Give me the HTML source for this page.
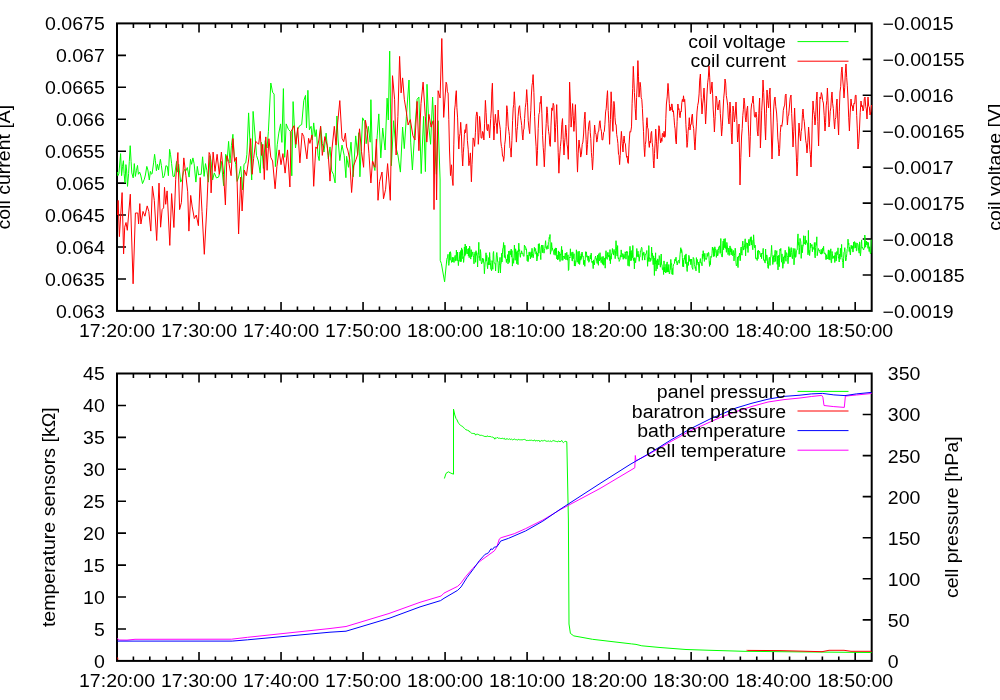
<!DOCTYPE html>
<html><head><meta charset="utf-8"><style>
html,body{margin:0;padding:0;background:#fff;width:1000px;height:700px;overflow:hidden}
svg{display:block;will-change:transform}
text{font-family:"Liberation Sans",sans-serif;font-size:18px;fill:#000}
</style></head><body>
<svg width="1000" height="700" viewBox="0 0 1000 700">
<rect width="1000" height="700" fill="#fff"/>
<rect x="117.0" y="23.4" width="754.70" height="287.50" fill="none" stroke="#000" stroke-width="2"/>
<path d="M133.40 310.9v-4.5M133.40 23.4v4.5M149.81 310.9v-4.5M149.81 23.4v4.5M166.21 310.9v-4.5M166.21 23.4v4.5M182.62 310.9v-4.5M182.62 23.4v4.5M199.02 310.9v-9M199.02 23.4v9M215.42 310.9v-4.5M215.42 23.4v4.5M231.83 310.9v-4.5M231.83 23.4v4.5M248.23 310.9v-4.5M248.23 23.4v4.5M264.64 310.9v-4.5M264.64 23.4v4.5M281.04 310.9v-9M281.04 23.4v9M297.44 310.9v-4.5M297.44 23.4v4.5M313.85 310.9v-4.5M313.85 23.4v4.5M330.25 310.9v-4.5M330.25 23.4v4.5M346.66 310.9v-4.5M346.66 23.4v4.5M363.06 310.9v-9M363.06 23.4v9M379.46 310.9v-4.5M379.46 23.4v4.5M395.87 310.9v-4.5M395.87 23.4v4.5M412.27 310.9v-4.5M412.27 23.4v4.5M428.68 310.9v-4.5M428.68 23.4v4.5M445.08 310.9v-9M445.08 23.4v9M461.48 310.9v-4.5M461.48 23.4v4.5M477.89 310.9v-4.5M477.89 23.4v4.5M494.29 310.9v-4.5M494.29 23.4v4.5M510.70 310.9v-4.5M510.70 23.4v4.5M527.10 310.9v-9M527.10 23.4v9M543.50 310.9v-4.5M543.50 23.4v4.5M559.91 310.9v-4.5M559.91 23.4v4.5M576.31 310.9v-4.5M576.31 23.4v4.5M592.72 310.9v-4.5M592.72 23.4v4.5M609.12 310.9v-9M609.12 23.4v9M625.52 310.9v-4.5M625.52 23.4v4.5M641.93 310.9v-4.5M641.93 23.4v4.5M658.33 310.9v-4.5M658.33 23.4v4.5M674.74 310.9v-4.5M674.74 23.4v4.5M691.14 310.9v-9M691.14 23.4v9M707.54 310.9v-4.5M707.54 23.4v4.5M723.95 310.9v-4.5M723.95 23.4v4.5M740.35 310.9v-4.5M740.35 23.4v4.5M756.76 310.9v-4.5M756.76 23.4v4.5M773.16 310.9v-9M773.16 23.4v9M789.56 310.9v-4.5M789.56 23.4v4.5M805.97 310.9v-4.5M805.97 23.4v4.5M822.37 310.9v-4.5M822.37 23.4v4.5M838.78 310.9v-4.5M838.78 23.4v4.5M855.18 310.9v-9M855.18 23.4v9" stroke="#000" stroke-width="1.6" fill="none"/>
<path d="M117.0 55.34h9M117.0 87.29h9M117.0 119.23h9M117.0 151.18h9M117.0 183.12h9M117.0 215.07h9M117.0 247.01h9M117.0 278.96h9M871.7 59.34h-9M871.7 95.28h-9M871.7 131.21h-9M871.7 167.15h-9M871.7 203.09h-9M871.7 239.03h-9M871.7 274.96h-9" stroke="#000" stroke-width="1.6" fill="none"/>
<rect x="117.0" y="373.5" width="754.70" height="287.40" fill="none" stroke="#000" stroke-width="2"/>
<path d="M133.40 660.9v-4.5M133.40 373.5v4.5M149.81 660.9v-4.5M149.81 373.5v4.5M166.21 660.9v-4.5M166.21 373.5v4.5M182.62 660.9v-4.5M182.62 373.5v4.5M199.02 660.9v-9M199.02 373.5v9M215.42 660.9v-4.5M215.42 373.5v4.5M231.83 660.9v-4.5M231.83 373.5v4.5M248.23 660.9v-4.5M248.23 373.5v4.5M264.64 660.9v-4.5M264.64 373.5v4.5M281.04 660.9v-9M281.04 373.5v9M297.44 660.9v-4.5M297.44 373.5v4.5M313.85 660.9v-4.5M313.85 373.5v4.5M330.25 660.9v-4.5M330.25 373.5v4.5M346.66 660.9v-4.5M346.66 373.5v4.5M363.06 660.9v-9M363.06 373.5v9M379.46 660.9v-4.5M379.46 373.5v4.5M395.87 660.9v-4.5M395.87 373.5v4.5M412.27 660.9v-4.5M412.27 373.5v4.5M428.68 660.9v-4.5M428.68 373.5v4.5M445.08 660.9v-9M445.08 373.5v9M461.48 660.9v-4.5M461.48 373.5v4.5M477.89 660.9v-4.5M477.89 373.5v4.5M494.29 660.9v-4.5M494.29 373.5v4.5M510.70 660.9v-4.5M510.70 373.5v4.5M527.10 660.9v-9M527.10 373.5v9M543.50 660.9v-4.5M543.50 373.5v4.5M559.91 660.9v-4.5M559.91 373.5v4.5M576.31 660.9v-4.5M576.31 373.5v4.5M592.72 660.9v-4.5M592.72 373.5v4.5M609.12 660.9v-9M609.12 373.5v9M625.52 660.9v-4.5M625.52 373.5v4.5M641.93 660.9v-4.5M641.93 373.5v4.5M658.33 660.9v-4.5M658.33 373.5v4.5M674.74 660.9v-4.5M674.74 373.5v4.5M691.14 660.9v-9M691.14 373.5v9M707.54 660.9v-4.5M707.54 373.5v4.5M723.95 660.9v-4.5M723.95 373.5v4.5M740.35 660.9v-4.5M740.35 373.5v4.5M756.76 660.9v-4.5M756.76 373.5v4.5M773.16 660.9v-9M773.16 373.5v9M789.56 660.9v-4.5M789.56 373.5v4.5M805.97 660.9v-4.5M805.97 373.5v4.5M822.37 660.9v-4.5M822.37 373.5v4.5M838.78 660.9v-4.5M838.78 373.5v4.5M855.18 660.9v-9M855.18 373.5v9" stroke="#000" stroke-width="1.6" fill="none"/>
<path d="M117.0 405.43h9M117.0 437.37h9M117.0 469.30h9M117.0 501.23h9M117.0 533.17h9M117.0 565.10h9M117.0 597.03h9M117.0 628.97h9M871.7 414.56h-9M871.7 455.61h-9M871.7 496.67h-9M871.7 537.73h-9M871.7 578.79h-9M871.7 619.84h-9" stroke="#000" stroke-width="1.6" fill="none"/>
<text x="104.80" y="30.20" text-anchor="end" textLength="59.73" lengthAdjust="spacingAndGlyphs">0.0675</text>
<text x="104.80" y="62.19" text-anchor="end" textLength="48.87" lengthAdjust="spacingAndGlyphs">0.067</text>
<text x="104.80" y="94.18" text-anchor="end" textLength="59.73" lengthAdjust="spacingAndGlyphs">0.0665</text>
<text x="104.80" y="126.17" text-anchor="end" textLength="48.87" lengthAdjust="spacingAndGlyphs">0.066</text>
<text x="104.80" y="158.16" text-anchor="end" textLength="59.73" lengthAdjust="spacingAndGlyphs">0.0655</text>
<text x="104.80" y="190.14" text-anchor="end" textLength="48.87" lengthAdjust="spacingAndGlyphs">0.065</text>
<text x="104.80" y="222.13" text-anchor="end" textLength="59.73" lengthAdjust="spacingAndGlyphs">0.0645</text>
<text x="104.80" y="254.12" text-anchor="end" textLength="48.87" lengthAdjust="spacingAndGlyphs">0.064</text>
<text x="104.80" y="286.11" text-anchor="end" textLength="59.73" lengthAdjust="spacingAndGlyphs">0.0635</text>
<text x="104.80" y="318.10" text-anchor="end" textLength="48.87" lengthAdjust="spacingAndGlyphs">0.063</text>
<text x="882.50" y="30.20" text-anchor="start" textLength="71.14" lengthAdjust="spacingAndGlyphs">−0.0015</text>
<text x="882.50" y="66.19" text-anchor="start" textLength="82.00" lengthAdjust="spacingAndGlyphs">−0.00155</text>
<text x="882.50" y="102.17" text-anchor="start" textLength="71.14" lengthAdjust="spacingAndGlyphs">−0.0016</text>
<text x="882.50" y="138.16" text-anchor="start" textLength="82.00" lengthAdjust="spacingAndGlyphs">−0.00165</text>
<text x="882.50" y="174.15" text-anchor="start" textLength="71.14" lengthAdjust="spacingAndGlyphs">−0.0017</text>
<text x="882.50" y="210.14" text-anchor="start" textLength="82.00" lengthAdjust="spacingAndGlyphs">−0.00175</text>
<text x="882.50" y="246.13" text-anchor="start" textLength="71.14" lengthAdjust="spacingAndGlyphs">−0.0018</text>
<text x="882.50" y="282.11" text-anchor="start" textLength="82.00" lengthAdjust="spacingAndGlyphs">−0.00185</text>
<text x="882.50" y="318.10" text-anchor="start" textLength="71.14" lengthAdjust="spacingAndGlyphs">−0.0019</text>
<text x="104.80" y="380.30" text-anchor="end" textLength="21.72" lengthAdjust="spacingAndGlyphs">45</text>
<text x="104.80" y="412.28" text-anchor="end" textLength="21.72" lengthAdjust="spacingAndGlyphs">40</text>
<text x="104.80" y="444.26" text-anchor="end" textLength="21.72" lengthAdjust="spacingAndGlyphs">35</text>
<text x="104.80" y="476.23" text-anchor="end" textLength="21.72" lengthAdjust="spacingAndGlyphs">30</text>
<text x="104.80" y="508.21" text-anchor="end" textLength="21.72" lengthAdjust="spacingAndGlyphs">25</text>
<text x="104.80" y="540.19" text-anchor="end" textLength="21.72" lengthAdjust="spacingAndGlyphs">20</text>
<text x="104.80" y="572.17" text-anchor="end" textLength="21.72" lengthAdjust="spacingAndGlyphs">15</text>
<text x="104.80" y="604.14" text-anchor="end" textLength="21.72" lengthAdjust="spacingAndGlyphs">10</text>
<text x="104.80" y="636.12" text-anchor="end" textLength="10.86" lengthAdjust="spacingAndGlyphs">5</text>
<text x="104.80" y="668.10" text-anchor="end" textLength="10.86" lengthAdjust="spacingAndGlyphs">0</text>
<text x="887.80" y="380.30" text-anchor="start" textLength="32.58" lengthAdjust="spacingAndGlyphs">350</text>
<text x="887.80" y="421.41" text-anchor="start" textLength="32.58" lengthAdjust="spacingAndGlyphs">300</text>
<text x="887.80" y="462.53" text-anchor="start" textLength="32.58" lengthAdjust="spacingAndGlyphs">250</text>
<text x="887.80" y="503.64" text-anchor="start" textLength="32.58" lengthAdjust="spacingAndGlyphs">200</text>
<text x="887.80" y="544.76" text-anchor="start" textLength="32.58" lengthAdjust="spacingAndGlyphs">150</text>
<text x="887.80" y="585.87" text-anchor="start" textLength="32.58" lengthAdjust="spacingAndGlyphs">100</text>
<text x="887.80" y="626.99" text-anchor="start" textLength="21.72" lengthAdjust="spacingAndGlyphs">50</text>
<text x="887.80" y="668.10" text-anchor="start" textLength="10.86" lengthAdjust="spacingAndGlyphs">0</text>
<text x="117.00" y="336.50" text-anchor="middle" textLength="76.02" lengthAdjust="spacingAndGlyphs">17:20:00</text>
<text x="117.00" y="686.80" text-anchor="middle" textLength="76.02" lengthAdjust="spacingAndGlyphs">17:20:00</text>
<text x="199.02" y="336.50" text-anchor="middle" textLength="76.02" lengthAdjust="spacingAndGlyphs">17:30:00</text>
<text x="199.02" y="686.80" text-anchor="middle" textLength="76.02" lengthAdjust="spacingAndGlyphs">17:30:00</text>
<text x="281.04" y="336.50" text-anchor="middle" textLength="76.02" lengthAdjust="spacingAndGlyphs">17:40:00</text>
<text x="281.04" y="686.80" text-anchor="middle" textLength="76.02" lengthAdjust="spacingAndGlyphs">17:40:00</text>
<text x="363.06" y="336.50" text-anchor="middle" textLength="76.02" lengthAdjust="spacingAndGlyphs">17:50:00</text>
<text x="363.06" y="686.80" text-anchor="middle" textLength="76.02" lengthAdjust="spacingAndGlyphs">17:50:00</text>
<text x="445.08" y="336.50" text-anchor="middle" textLength="76.02" lengthAdjust="spacingAndGlyphs">18:00:00</text>
<text x="445.08" y="686.80" text-anchor="middle" textLength="76.02" lengthAdjust="spacingAndGlyphs">18:00:00</text>
<text x="527.10" y="336.50" text-anchor="middle" textLength="76.02" lengthAdjust="spacingAndGlyphs">18:10:00</text>
<text x="527.10" y="686.80" text-anchor="middle" textLength="76.02" lengthAdjust="spacingAndGlyphs">18:10:00</text>
<text x="609.12" y="336.50" text-anchor="middle" textLength="76.02" lengthAdjust="spacingAndGlyphs">18:20:00</text>
<text x="609.12" y="686.80" text-anchor="middle" textLength="76.02" lengthAdjust="spacingAndGlyphs">18:20:00</text>
<text x="691.14" y="336.50" text-anchor="middle" textLength="76.02" lengthAdjust="spacingAndGlyphs">18:30:00</text>
<text x="691.14" y="686.80" text-anchor="middle" textLength="76.02" lengthAdjust="spacingAndGlyphs">18:30:00</text>
<text x="773.16" y="336.50" text-anchor="middle" textLength="76.02" lengthAdjust="spacingAndGlyphs">18:40:00</text>
<text x="773.16" y="686.80" text-anchor="middle" textLength="76.02" lengthAdjust="spacingAndGlyphs">18:40:00</text>
<text x="855.18" y="336.50" text-anchor="middle" textLength="76.02" lengthAdjust="spacingAndGlyphs">18:50:00</text>
<text x="855.18" y="686.80" text-anchor="middle" textLength="76.02" lengthAdjust="spacingAndGlyphs">18:50:00</text>
<text transform="translate(9.60,167.15) rotate(-90)" x="0" y="0" text-anchor="middle" textLength="124.82" lengthAdjust="spacingAndGlyphs">coil current [A]</text>
<text transform="translate(1001.30,167.15) rotate(-90)" x="0" y="0" text-anchor="middle" textLength="127.01" lengthAdjust="spacingAndGlyphs">coil voltage [V]</text>
<text transform="translate(55.00,517.20) rotate(-90)" x="0" y="0" text-anchor="middle" textLength="219.75" lengthAdjust="spacingAndGlyphs">temperature sensors [kΩ]</text>
<text transform="translate(958.00,517.20) rotate(-90)" x="0" y="0" text-anchor="middle" textLength="161.74" lengthAdjust="spacingAndGlyphs">cell pressure [hPa]</text>
<polyline points="117.5,172.0 117.9,175.7 118.9,173.6 120.6,153.6 121.6,175.7 122.5,166.4 123.4,160.7 124.1,173.6 125.0,182.9 125.9,164.6 126.6,170.0 127.5,186.4 128.6,173.6 129.3,161.4 130.2,145.7 131.1,161.4 131.8,172.9 133.2,177.9 134.3,163.6 135.4,176.4 136.4,170.7 137.5,165.4 138.4,174.3 139.6,172.1 140.7,175.0 142.5,183.6 144.3,179.3 145.4,175.0 146.8,166.4 147.9,170.0 149.3,180.0 150.4,171.4 151.4,174.3 152.1,173.6 153.6,162.9 154.6,154.3 155.4,160.7 156.4,170.7 157.5,164.3 158.6,170.0 160.4,159.3 161.4,165.7 163.0,177.9 164.4,175.7 165.9,165.7 167.3,166.4 168.4,175.7 169.6,149.3 170.5,154.3 171.6,163.6 173.0,176.4 174.4,176.4 176.6,161.4 177.6,172.1 178.7,164.3 180.7,182.1 181.9,180.0 183.4,172.1 184.8,169.3 185.9,170.7 187.3,167.5 189.1,177.1 190.5,159.3 191.6,164.3 192.9,157.9 194.1,163.6 195.9,182.1 197.3,166.4 198.6,175.0 199.8,174.3 201.2,174.3 202.6,156.8 204.1,176.4 205.5,163.6 206.9,170.7 208.4,182.1 210.0,155.7 211.1,161.4 212.6,180.0 214.3,172.9 216.4,177.9 218.6,177.1 220.0,171.4 221.4,161.4 223.6,185.7 225.7,154.3 227.1,161.4 228.6,141.4 230.0,162.9 231.4,145.7 232.9,134.3 234.3,157.1 235.7,164.3 237.1,181.4 238.6,177.1 240.7,166.4 242.6,190.0 244.0,164.3 245.7,162.9 246.9,154.3 248.6,112.9 250.0,142.9 251.7,180.0 253.1,111.4 255.0,135.0 256.5,155.4 258.3,161.0 260.2,173.1 261.5,142.4 263.4,168.4 265.2,140.6 267.1,148.0 268.4,131.3 270.8,83.0 272.6,92.3 274.1,94.1 275.4,166.6 277.3,144.3 278.8,133.1 280.6,123.9 281.9,142.4 283.4,88.6 284.7,157.3 286.2,123.9 288.4,129.4 290.3,131.3 291.8,175.8 293.1,101.6 295.5,148.0 297.7,129.4 299.6,125.7 301.7,124.6 303.8,100.6 305.5,95.4 306.5,128.0 307.9,90.3 309.4,129.7 311.1,126.3 312.3,140.0 313.7,122.9 315.1,136.6 316.3,129.7 318.0,155.4 319.2,160.6 320.6,126.3 322.3,143.4 324.0,152.0 326.1,133.1 328.3,158.9 330.0,146.9 331.7,170.9 333.4,174.3 335.1,182.9 336.9,116.0 338.1,140.0 339.8,160.6 342.0,145.1 344.2,155.4 345.9,177.7 346.6,156.3 348.5,167.3 351.0,142.2 353.2,176.8 355.7,135.9 357.6,154.7 358.8,132.7 359.9,176.8 362.6,117.8 364.7,121.7 366.2,143.7 368.3,126.4 370.2,142.2 370.9,99.7 372.5,161.0 374.9,170.5 377.2,135.9 378.8,113.9 380.8,157.9 382.7,128.0 385.1,150.0 387.1,98.1 388.3,120.0 389.7,51.1 391.4,165.7 393.6,120.7 395.7,146.4 397.9,155.0 400.4,172.1 402.6,127.1 404.3,148.6 406.4,116.4 409.0,80.0 410.7,142.1 412.4,170.0 415.0,127.1 417.1,99.3 418.9,97.1 421.2,173.6 423.6,116.4 425.4,171.6 427.0,84.3 428.9,127.1 430.6,144.3 432.6,97.1 434.3,137.9 436.4,174.3 438.1,120.7 440.1,180.0 440.2,260.3 441.4,263.6 442.5,270.0 444.6,281.8 446.8,259.3 447.2,257.8 447.6,257.7 448.0,254.3 448.4,263.4 448.8,265.4 449.2,262.9 449.6,252.3 450.0,260.2 450.4,251.7 450.8,253.4 451.2,259.7 451.6,262.4 452.0,262.1 452.4,257.3 452.8,262.0 453.2,257.5 453.6,257.7 454.0,262.5 454.4,258.5 454.8,257.1 455.2,255.4 455.6,260.9 456.0,260.5 456.4,250.1 456.8,256.5 457.2,260.8 457.6,252.1 458.0,260.1 458.4,265.6 458.8,260.3 459.2,261.2 459.6,256.0 460.0,252.0 460.4,261.7 460.8,250.5 461.2,261.6 461.6,247.9 462.0,255.2 462.4,249.6 462.8,258.7 463.2,256.6 463.6,262.4 464.0,258.4 464.4,247.0 464.8,256.2 465.2,244.1 465.6,254.6 466.0,252.2 466.4,246.0 466.8,253.3 467.2,254.0 467.6,253.0 468.0,248.9 468.4,255.9 468.8,248.3 469.2,257.6 469.6,246.1 470.0,249.0 470.4,257.5 470.8,259.1 471.2,249.7 471.6,256.8 472.0,254.9 472.4,253.7 472.8,251.9 473.2,255.3 473.6,257.2 474.0,263.8 474.4,253.8 474.8,253.5 475.2,252.0 475.6,262.3 476.0,250.7 476.4,255.3 476.8,252.7 477.2,255.7 477.6,267.0 478.0,255.6 478.4,254.5 478.8,242.3 479.2,257.5 479.6,256.3 480.0,260.7 480.4,249.6 480.8,253.6 481.2,261.7 481.6,263.9 482.0,262.7 482.4,260.1 482.8,258.0 483.2,262.3 483.6,259.3 484.0,264.2 484.4,273.7 484.8,267.4 485.2,262.1 485.6,261.3 486.0,252.8 486.4,261.1 486.8,255.4 487.2,265.2 487.6,268.7 488.0,262.6 488.4,264.9 488.8,257.5 489.2,264.9 489.6,252.5 490.0,258.6 490.4,262.7 490.8,269.1 491.2,269.1 491.6,270.7 492.0,260.6 492.4,262.4 492.8,269.3 493.2,253.2 493.6,251.5 494.0,261.7 494.4,262.8 494.8,263.7 495.2,263.4 495.6,271.0 496.0,262.5 496.4,254.8 496.8,252.5 497.2,255.7 497.6,261.6 498.0,261.3 498.4,273.0 498.8,269.9 499.2,265.8 499.6,263.2 500.0,257.4 500.4,273.0 500.8,264.1 501.2,263.0 501.6,253.3 502.0,262.0 502.4,254.3 502.8,248.3 503.2,248.1 503.6,242.5 504.0,249.3 504.4,257.5 504.8,245.2 505.2,254.2 505.6,258.7 506.0,259.2 506.4,262.5 506.8,259.0 507.2,260.2 507.6,254.6 508.0,263.9 508.4,259.1 508.8,251.0 509.2,262.5 509.6,258.9 510.0,250.8 510.4,254.6 510.8,254.0 511.2,249.1 511.6,257.1 512.0,250.6 512.4,266.1 512.8,260.1 513.2,258.5 513.6,263.3 514.0,256.0 514.4,245.1 514.8,253.3 515.2,260.3 515.6,248.8 516.0,254.1 516.4,252.1 516.8,263.8 517.2,250.7 517.6,261.4 518.0,264.7 518.4,252.4 518.8,243.2 519.2,251.0 519.6,249.7 520.0,255.2 520.4,257.3 520.8,253.2 521.2,253.9 521.6,250.8 522.0,252.5 522.4,253.4 522.8,253.0 523.2,255.5 523.6,256.2 524.0,256.4 524.4,245.1 524.8,246.9 525.2,246.6 525.6,246.7 526.0,249.9 526.4,248.8 526.8,254.6 527.2,260.8 527.6,255.0 528.0,261.7 528.4,260.2 528.8,254.2 529.2,251.9 529.6,255.6 530.0,252.6 530.4,258.9 530.8,254.8 531.2,251.7 531.6,257.3 532.0,248.3 532.4,253.4 532.8,256.7 533.2,257.8 533.6,254.9 534.0,252.0 534.4,247.3 534.8,251.2 535.2,250.0 535.6,248.5 536.0,254.2 536.4,251.7 536.8,261.0 537.2,259.7 537.6,253.2 538.0,256.2 538.4,244.0 538.8,253.1 539.2,243.5 539.6,246.8 540.0,250.9 540.4,254.6 540.8,259.6 541.2,247.0 541.6,245.0 542.0,249.1 542.4,252.7 542.8,245.1 543.2,248.1 543.6,249.3 544.0,253.2 544.4,250.2 544.8,248.8 545.2,244.5 545.6,240.7 546.0,247.6 546.4,246.7 546.8,249.4 547.2,247.2 547.6,245.6 548.0,248.9 548.4,242.2 548.8,241.6 549.2,237.4 549.6,238.8 550.0,234.5 550.4,254.2 550.8,251.4 551.2,251.3 551.6,242.6 552.0,247.5 552.4,247.8 552.8,250.5 553.2,250.3 553.6,250.7 554.0,254.6 554.4,251.4 554.8,248.8 555.2,255.3 555.6,247.9 556.0,253.2 556.4,248.1 556.8,258.9 557.2,255.1 557.6,260.0 558.0,257.8 558.4,250.9 558.8,259.3 559.2,251.9 559.6,253.3 560.0,261.5 560.4,254.0 560.8,254.8 561.2,252.2 561.6,246.4 562.0,260.3 562.4,249.9 562.8,260.3 563.2,257.0 563.6,256.0 564.0,256.5 564.4,256.3 564.8,258.9 565.2,253.0 565.6,253.6 566.0,259.9 566.4,255.5 566.8,252.3 567.2,257.5 567.6,260.2 568.0,254.8 568.4,270.5 568.8,269.5 569.2,258.7 569.6,257.0 570.0,258.0 570.4,248.8 570.8,255.7 571.2,252.4 571.6,253.4 572.0,260.5 572.4,261.1 572.8,251.9 573.2,258.7 573.6,257.7 574.0,253.7 574.4,265.9 574.8,260.7 575.2,266.1 575.6,264.4 576.0,259.5 576.4,249.8 576.8,260.3 577.2,262.2 577.6,261.2 578.0,251.5 578.4,263.6 578.8,254.5 579.2,251.2 579.6,264.5 580.0,260.8 580.4,256.2 580.8,260.2 581.2,253.7 581.6,258.5 582.0,252.0 582.4,254.1 582.8,256.7 583.2,256.2 583.6,264.6 584.0,264.0 584.4,260.2 584.8,266.3 585.2,260.1 585.6,251.7 586.0,253.6 586.4,251.9 586.8,257.2 587.2,255.7 587.6,256.7 588.0,260.6 588.4,256.0 588.8,262.3 589.2,261.3 589.6,261.0 590.0,256.2 590.4,255.2 590.8,259.0 591.2,253.1 591.6,260.6 592.0,262.6 592.4,261.1 592.8,264.2 593.2,268.6 593.6,259.9 594.0,263.5 594.4,264.9 594.8,260.8 595.2,257.4 595.6,256.0 596.0,258.9 596.4,258.6 596.8,261.8 597.2,263.5 597.6,255.1 598.0,260.9 598.4,265.3 598.8,253.7 599.2,260.0 599.6,260.9 600.0,252.7 600.4,258.0 600.8,260.7 601.2,262.7 601.6,259.6 602.0,256.7 602.4,264.3 602.8,258.9 603.2,256.4 603.6,265.2 604.0,265.0 604.4,259.8 604.8,257.9 605.2,268.2 605.6,256.2 606.0,250.7 606.4,256.9 606.8,258.1 607.2,259.4 607.6,252.6 608.0,252.2 608.4,254.4 608.8,257.1 609.2,255.1 609.6,260.5 610.0,249.6 610.4,263.7 610.8,256.2 611.2,259.2 611.6,253.8 612.0,254.2 612.4,248.5 612.8,252.1 613.2,251.8 613.6,255.1 614.0,249.4 614.4,252.0 614.8,252.8 615.2,258.7 615.6,250.8 616.0,240.7 616.4,246.8 616.8,254.4 617.2,256.1 617.6,245.6 618.0,257.6 618.4,258.9 618.8,257.6 619.2,261.4 619.6,260.4 620.0,259.5 620.4,255.4 620.8,257.1 621.2,249.9 621.6,254.7 622.0,257.1 622.4,255.5 622.8,253.5 623.2,259.3 623.6,255.2 624.0,254.4 624.4,257.2 624.8,258.3 625.2,251.8 625.6,253.6 626.0,259.2 626.4,253.5 626.8,251.1 627.2,252.4 627.6,252.0 628.0,265.7 628.4,256.3 628.8,255.6 629.2,266.3 629.6,250.6 630.0,246.3 630.4,250.8 630.8,260.8 631.2,250.5 631.6,260.3 632.0,253.1 632.4,257.7 632.8,245.5 633.2,257.7 633.6,260.7 634.0,258.0 634.4,268.9 634.8,257.6 635.2,260.7 635.6,262.7 636.0,258.9 636.4,257.4 636.8,248.5 637.2,255.4 637.6,256.6 638.0,251.2 638.4,257.1 638.8,254.4 639.2,261.3 639.6,257.0 640.0,257.1 640.4,250.9 640.8,251.4 641.2,248.8 641.6,247.3 642.0,248.4 642.4,260.2 642.8,252.9 643.2,255.3 643.6,252.2 644.0,252.1 644.4,257.9 644.8,260.1 645.2,255.0 645.6,253.9 646.0,254.2 646.4,253.6 646.8,250.5 647.2,257.0 647.6,266.3 648.0,257.7 648.4,261.4 648.8,245.6 649.2,256.4 649.6,259.3 650.0,261.7 650.4,258.3 650.8,260.6 651.2,259.3 651.6,247.1 652.0,256.0 652.4,253.1 652.8,259.8 653.2,264.7 653.6,255.8 654.0,262.5 654.4,275.5 654.8,258.1 655.2,264.1 655.6,252.8 656.0,271.1 656.4,260.6 656.8,262.7 657.2,268.8 657.6,259.0 658.0,259.3 658.4,262.4 658.8,265.1 659.2,255.6 659.6,256.3 660.0,262.8 660.4,267.2 660.8,261.8 661.2,254.0 661.6,264.7 662.0,264.5 662.4,269.6 662.8,269.9 663.2,267.5 663.6,274.5 664.0,260.9 664.4,271.9 664.8,267.2 665.2,271.6 665.6,272.9 666.0,264.3 666.4,272.3 666.8,263.2 667.2,261.9 667.6,272.1 668.0,267.5 668.4,272.0 668.8,264.5 669.2,273.4 669.6,273.9 670.0,270.5 670.4,269.0 670.8,259.4 671.2,264.9 671.6,263.5 672.0,274.2 672.4,268.5 672.8,274.7 673.2,266.6 673.6,264.3 674.0,264.1 674.4,263.7 674.8,259.2 675.2,258.9 675.6,260.8 676.0,257.2 676.4,262.4 676.8,261.5 677.2,265.0 677.6,262.9 678.0,261.3 678.4,260.4 678.8,260.3 679.2,263.3 679.6,261.3 680.0,254.8 680.4,251.2 680.8,247.7 681.2,252.6 681.6,249.5 682.0,251.9 682.4,257.6 682.8,266.6 683.2,260.2 683.6,266.8 684.0,258.4 684.4,259.3 684.8,255.9 685.2,255.0 685.6,263.5 686.0,253.9 686.4,261.9 686.8,268.6 687.2,271.5 687.6,265.0 688.0,261.9 688.4,265.4 688.8,255.3 689.2,256.3 689.6,261.3 690.0,261.2 690.4,259.1 690.8,264.7 691.2,261.1 691.6,259.1 692.0,267.3 692.4,268.0 692.8,269.4 693.2,257.4 693.6,258.0 694.0,259.4 694.4,264.7 694.8,266.1 695.2,268.5 695.6,266.8 696.0,270.9 696.4,257.6 696.8,265.1 697.2,259.4 697.6,262.4 698.0,263.2 698.4,262.2 698.8,269.0 699.2,272.8 699.6,263.5 700.0,260.7 700.4,258.6 700.8,263.1 701.2,263.0 701.6,262.7 702.0,265.8 702.4,254.1 702.8,258.6 703.2,250.7 703.6,256.3 704.0,254.6 704.4,261.4 704.8,253.3 705.2,257.7 705.6,258.0 706.0,259.8 706.4,259.3 706.8,257.9 707.2,253.3 707.6,256.3 708.0,255.5 708.4,252.3 708.8,252.7 709.2,262.0 709.6,266.4 710.0,261.3 710.4,264.7 710.8,256.4 711.2,257.0 711.6,257.4 712.0,253.8 712.4,247.0 712.8,250.1 713.2,249.1 713.6,256.6 714.0,247.7 714.4,256.2 714.8,246.8 715.2,248.5 715.6,250.2 716.0,253.4 716.4,257.4 716.8,250.6 717.2,249.5 717.6,255.9 718.0,254.9 718.4,250.5 718.8,247.1 719.2,247.3 719.6,245.8 720.0,253.3 720.4,252.8 720.8,238.5 721.2,253.7 721.6,255.8 722.0,257.1 722.4,256.8 722.8,243.9 723.2,241.0 723.6,249.7 724.0,238.9 724.4,247.7 724.8,241.4 725.2,238.5 725.6,248.4 726.0,246.5 726.4,252.3 726.8,242.4 727.2,244.6 727.6,249.0 728.0,254.6 728.4,252.5 728.8,248.0 729.2,255.5 729.6,254.4 730.0,245.9 730.4,252.0 730.8,247.8 731.2,254.9 731.6,249.1 732.0,249.5 732.4,254.4 732.8,255.8 733.2,251.5 733.6,250.5 734.0,260.9 734.4,255.3 734.8,253.0 735.2,248.2 735.6,250.9 736.0,262.9 736.4,266.0 736.8,265.5 737.2,264.1 737.6,257.1 738.0,267.6 738.4,256.1 738.8,257.2 739.2,256.0 739.6,253.0 740.0,260.8 740.4,260.5 740.8,248.6 741.2,247.0 741.6,253.6 742.0,255.2 742.4,245.2 742.8,241.1 743.2,245.5 743.6,250.1 744.0,249.0 744.4,247.5 744.8,243.7 745.2,238.8 745.6,255.9 746.0,244.5 746.4,242.8 746.8,243.2 747.2,248.4 747.6,243.1 748.0,252.5 748.4,243.7 748.8,239.4 749.2,239.3 749.6,245.8 750.0,244.9 750.4,237.5 750.8,241.3 751.2,236.7 751.6,245.0 752.0,240.3 752.4,247.1 752.8,249.8 753.2,244.9 753.6,234.8 754.0,241.2 754.4,246.1 754.8,247.9 755.2,245.2 755.6,258.2 756.0,259.1 756.4,258.6 756.8,257.8 757.2,260.5 757.6,250.8 758.0,258.8 758.4,250.2 758.8,251.1 759.2,252.2 759.6,251.4 760.0,254.2 760.4,255.4 760.8,256.9 761.2,253.2 761.6,258.7 762.0,253.0 762.4,253.6 762.8,253.3 763.2,248.4 763.6,260.3 764.0,259.9 764.4,259.9 764.8,262.3 765.2,263.1 765.6,249.0 766.0,260.6 766.4,256.1 766.8,254.9 767.2,257.1 767.6,264.6 768.0,268.2 768.4,268.4 768.8,260.8 769.2,257.6 769.6,257.2 770.0,265.4 770.4,257.3 770.8,257.3 771.2,252.3 771.6,245.4 772.0,254.3 772.4,256.7 772.8,264.5 773.2,260.3 773.6,255.6 774.0,262.2 774.4,257.3 774.8,253.6 775.2,250.2 775.6,261.4 776.0,254.4 776.4,253.8 776.8,250.7 777.2,264.3 777.6,256.1 778.0,269.9 778.4,258.6 778.8,255.2 779.2,266.7 779.6,257.2 780.0,249.0 780.4,250.9 780.8,248.4 781.2,257.5 781.6,262.2 782.0,253.9 782.4,261.6 782.8,268.3 783.2,264.9 783.6,256.9 784.0,263.6 784.4,255.8 784.8,257.0 785.2,250.2 785.6,258.7 786.0,261.3 786.4,252.7 786.8,252.8 787.2,255.5 787.6,257.5 788.0,263.7 788.4,258.0 788.8,246.7 789.2,257.1 789.6,248.7 790.0,253.9 790.4,256.9 790.8,250.2 791.2,247.6 791.6,252.3 792.0,257.1 792.4,258.7 792.8,254.1 793.2,248.4 793.6,249.4 794.0,264.8 794.4,257.7 794.8,248.5 795.2,250.4 795.6,257.4 796.0,256.3 796.4,250.6 796.8,249.8 797.2,249.8 797.6,239.0 798.0,233.9 798.4,245.2 798.8,242.3 799.2,254.2 799.6,247.7 800.0,238.4 800.4,241.2 800.8,241.3 801.2,258.4 801.6,248.0 802.0,244.8 802.4,252.7 802.8,246.8 803.2,246.2 803.6,235.7 804.0,244.1 804.4,243.9 804.8,241.6 805.2,235.9 805.6,244.7 806.0,243.3 806.4,240.4 806.8,243.0 807.2,243.3 807.6,243.2 808.0,254.8 808.4,230.4 808.8,252.7 809.2,250.3 809.6,255.6 810.0,251.7 810.4,243.0 810.8,247.7 811.2,244.6 811.6,245.9 812.0,244.6 812.4,251.7 812.8,246.9 813.2,248.4 813.6,248.9 814.0,249.5 814.4,242.5 814.8,255.3 815.2,257.9 815.6,247.3 816.0,242.4 816.4,245.3 816.8,236.8 817.2,255.7 817.6,253.0 818.0,250.7 818.4,248.5 818.8,249.7 819.2,251.0 819.6,250.2 820.0,253.1 820.4,253.1 820.8,254.1 821.2,249.3 821.6,254.2 822.0,251.4 822.4,253.4 822.8,247.9 823.2,250.7 823.6,246.3 824.0,253.5 824.4,253.7 824.8,252.8 825.2,253.1 825.6,255.3 826.0,259.7 826.4,254.7 826.8,259.0 827.2,258.1 827.6,258.9 828.0,253.7 828.4,249.9 828.8,259.4 829.2,250.5 829.6,259.4 830.0,260.1 830.4,253.1 830.8,248.8 831.2,262.8 831.6,262.7 832.0,251.4 832.4,253.6 832.8,258.6 833.2,257.4 833.6,256.3 834.0,258.2 834.4,255.6 834.8,262.5 835.2,252.5 835.6,254.6 836.0,261.1 836.4,259.9 836.8,251.5 837.2,254.7 837.6,253.9 838.0,247.8 838.4,258.2 838.8,256.9 839.2,262.0 839.6,254.2 840.0,259.3 840.4,248.3 840.8,255.5 841.2,256.8 841.6,244.4 842.0,257.4 842.4,260.3 842.8,262.5 843.2,268.0 843.6,258.2 844.0,252.2 844.4,251.6 844.8,247.7 845.2,254.2 845.6,261.0 846.0,260.5 846.4,257.4 846.8,253.7 847.2,249.2 847.6,248.5 848.0,239.2 848.4,244.6 848.8,243.2 849.2,251.5 849.6,247.2 850.0,252.9 850.4,255.0 850.8,249.0 851.2,245.2 851.6,248.6 852.0,246.0 852.4,245.9 852.8,252.0 853.2,251.9 853.6,242.0 854.0,248.3 854.4,241.6 854.8,241.8 855.2,244.7 855.6,247.8 856.0,242.8 856.4,250.9 856.8,250.7 857.2,243.2 857.6,243.5 858.0,244.3 858.4,247.9 858.8,251.5 859.2,253.2 859.6,241.9 860.0,249.2 860.4,255.9 860.8,252.3 861.2,244.6 861.6,239.9 862.0,248.2 862.4,247.2 862.8,247.8 863.2,249.2 863.6,250.0 864.0,248.3 864.4,248.1 864.8,235.0 865.2,239.6 865.6,247.2 866.0,243.3 866.4,241.0 866.8,245.0 867.2,241.9 867.6,242.8 868.0,248.4 868.4,242.5 868.8,247.9 869.2,251.6 869.6,246.8 870.0,251.3 870.4,253.8 870.8,252.5 871.2,239.6" fill="none" stroke="#00ff00" stroke-width="1.0" stroke-linejoin="round"/>
<polyline points="117.5,215.0 118.1,200.4 119.4,236.6 122.1,192.6 123.6,253.9 124.7,227.2 126.0,222.5 127.3,230.3 130.3,194.2 133.1,283.8 135.4,213.0 137.8,213.0 138.6,224.0 139.8,203.6 140.9,224.0 143.0,211.4 144.9,216.2 147.2,205.9 148.8,211.4 150.8,231.1 152.4,186.3 154.3,200.4 156.7,240.5 159.0,183.1 160.6,227.2 162.1,209.6 163.6,207.9 164.5,187.3 165.7,204.3 167.1,190.9 169.8,245.4 171.6,193.6 173.9,227.5 175.7,179.3 177.9,152.5 179.6,209.6 181.4,202.5 183.8,157.9 185.9,175.7 187.7,191.8 188.9,231.1 190.7,195.4 192.1,206.1 194.3,218.6 196.3,215.0 198.4,225.7 200.2,177.5 202.0,211.4 204.3,254.3 206.8,207.9 209.1,152.5 210.0,154.3 211.1,192.9 213.1,152.1 215.0,171.4 217.1,154.3 219.3,174.3 221.4,152.1 223.6,174.3 225.4,205.0 226.9,155.7 228.6,161.4 231.1,175.7 232.9,138.6 234.6,161.4 236.4,157.1 238.6,234.0 240.7,177.1 242.1,211.0 244.3,170.0 246.4,175.7 248.6,160.0 250.7,138.6 252.1,174.3 253.6,158.6 255.7,141.4 256.9,142.4 258.7,144.3 260.2,131.3 261.5,155.4 262.8,144.3 264.3,179.6 265.8,136.9 267.1,170.3 268.9,138.7 270.8,157.3 272.6,161.0 275.1,188.8 276.9,166.6 279.1,149.9 281.0,164.7 282.9,153.6 285.1,173.1 287.5,149.9 289.9,187.0 291.2,131.3 294.0,125.7 295.9,144.3 297.7,127.6 299.9,162.9 302.1,133.1 303.8,136.6 306.9,158.9 308.6,138.3 309.9,143.4 312.0,134.9 313.7,186.3 315.8,146.9 317.1,148.6 318.9,140.0 320.6,126.3 322.3,155.4 324.9,136.6 327.1,145.1 328.3,155.4 330.0,181.1 331.7,152.0 334.3,126.3 336.0,145.1 337.7,122.9 339.8,100.6 342.0,138.3 343.7,141.7 345.4,133.1 346.6,146.9 347.8,150.0 349.7,159.5 351.6,192.5 353.6,165.8 356.0,159.5 357.6,154.7 359.5,128.8 361.5,151.6 363.6,167.3 365.4,120.2 367.0,129.6 368.9,153.2 370.9,183.0 372.5,161.0 374.9,167.3 376.4,139.0 378.0,200.3 379.6,181.5 382.0,172.0 383.5,198.8 385.6,189.3 387.6,163.6 389.3,185.0 390.3,200.3 392.5,75.7 394.6,99.3 396.1,155.0 397.9,116.4 399.6,56.4 401.1,92.9 402.6,77.9 404.3,99.3 406.4,112.1 408.1,125.0 410.3,119.6 412.9,135.7 415.0,140.0 417.1,101.4 418.9,150.7 421.0,103.6 423.1,82.1 425.3,116.4 426.8,142.1 428.9,114.3 431.1,127.1 433.2,120.7 434.0,209.6 435.3,105.0 436.6,200.0 438.1,90.7 440.1,98.0 441.8,38.5 443.7,117.4 446.1,82.2 446.8,84.2 447.4,91.8 448.1,93.1 448.8,119.3 449.5,150.0 450.5,175.6 451.5,164.8 452.2,178.0 453.0,185.5 453.8,144.9 454.6,110.1 455.2,104.9 455.7,96.0 456.3,90.7 456.9,107.7 457.6,117.9 458.2,135.8 458.8,149.0 459.4,136.8 460.1,133.4 460.7,122.3 461.4,133.9 462.0,153.6 462.7,166.0 463.3,152.9 463.8,146.4 464.4,134.4 465.0,129.7 465.5,132.7 466.1,124.7 466.7,123.9 467.4,140.6 468.2,149.2 468.9,165.7 469.6,160.7 470.4,152.9 471.4,181.8 472.0,164.4 472.5,155.0 473.1,137.9 473.9,140.1 474.6,146.4 475.4,132.8 476.1,116.4 476.8,111.9 477.4,114.3 478.3,144.3 479.0,132.8 479.6,116.4 480.4,124.0 481.1,137.9 481.9,138.2 482.6,131.4 483.2,132.6 483.9,140.0 484.6,123.8 485.4,100.4 486.1,112.6 486.9,129.3 487.5,130.8 488.0,124.3 488.6,125.0 489.6,137.9 490.7,118.6 491.3,110.0 491.8,91.9 492.4,83.2 493.1,113.1 493.9,140.0 494.6,125.5 495.4,114.3 496.0,122.3 496.5,123.9 497.1,133.6 498.2,110.0 498.9,119.9 499.7,125.0 500.3,129.6 500.8,141.0 501.4,146.4 501.9,148.3 502.5,156.2 503.1,156.1 503.6,161.4 504.2,156.7 504.7,144.7 505.3,140.0 506.1,126.4 506.8,105.7 507.5,111.6 508.2,126.0 508.9,131.4 509.4,135.4 510.0,148.1 510.6,148.6 511.1,157.1 511.9,140.6 512.6,120.7 513.2,108.1 513.7,104.7 514.3,91.8 515.0,105.5 515.7,127.7 516.4,142.1 517.0,130.8 517.5,126.5 518.1,116.4 518.9,107.6 519.6,105.7 520.4,115.9 521.1,120.7 521.7,125.4 522.3,134.8 522.9,140.0 523.5,129.9 524.0,129.0 524.6,118.6 525.3,107.6 526.0,102.2 526.7,89.6 527.5,102.8 528.2,120.7 529.0,128.8 529.7,133.6 530.3,119.0 530.8,110.7 531.4,95.0 532.0,85.2 532.5,82.6 533.1,74.6 533.9,92.6 534.6,116.4 535.3,134.0 536.1,146.6 536.8,165.7 537.5,150.4 538.2,128.4 538.9,114.3 539.5,112.4 540.0,102.6 540.5,103.4 541.1,96.1 541.9,113.8 542.6,135.7 543.2,147.3 543.7,154.0 544.3,166.8 544.9,152.8 545.6,135.0 546.2,123.4 546.9,106.8 547.5,112.5 548.0,124.7 548.6,131.4 549.2,135.2 549.7,144.4 550.3,146.4 551.0,125.1 551.8,107.9 552.5,110.4 553.2,103.3 553.9,105.7 554.5,126.1 555.0,142.1 555.6,127.5 556.1,119.4 556.7,104.6 557.4,124.9 558.2,152.8 558.9,173.2 559.6,157.1 560.4,146.4 561.1,139.6 561.8,124.7 562.5,118.6 563.2,139.4 564.0,155.0 564.6,142.9 565.1,137.7 565.7,125.0 566.4,132.2 567.0,144.2 567.6,148.0 568.3,159.3 569.0,123.3 569.6,82.1 570.4,101.9 571.1,127.1 571.9,116.7 572.6,103.6 573.2,115.2 573.9,131.4 574.6,120.8 575.4,104.6 576.1,125.9 576.8,152.1 577.5,172.1 578.2,153.2 579.0,140.0 579.6,146.9 580.1,148.9 580.7,157.1 581.4,154.2 582.2,144.5 582.9,142.1 583.6,134.0 584.3,119.4 585.0,112.1 585.6,129.1 586.1,139.5 586.7,155.0 587.5,144.6 588.2,131.4 589.0,123.0 589.7,120.7 590.3,132.8 590.8,138.6 591.4,152.6 591.9,158.5 592.5,170.0 593.2,156.8 593.9,138.1 594.6,125.0 595.3,132.5 596.1,134.5 596.8,142.1 597.4,139.5 598.1,131.6 598.7,131.4 599.4,123.1 600.0,120.7 600.7,128.3 601.4,131.2 602.1,140.0 602.8,139.9 603.6,132.5 604.3,131.4 604.9,124.3 605.6,111.9 606.2,108.8 606.9,97.8 607.5,90.7 608.2,110.6 608.9,123.8 609.6,144.3 610.4,119.6 611.1,91.8 611.7,103.2 612.3,120.0 612.9,131.4 613.9,101.4 614.5,106.1 615.0,117.7 615.6,124.5 616.1,124.5 616.7,134.4 617.3,138.3 617.9,143.4 618.5,154.4 619.0,155.5 619.6,164.6 620.2,155.6 620.8,140.9 621.4,131.4 622.2,143.3 623.0,152.0 623.5,141.4 624.1,136.0 624.7,142.9 625.4,143.8 626.0,152.0 626.6,157.3 627.1,156.0 627.7,162.0 628.3,163.4 629.1,144.1 629.9,131.4 630.7,132.1 631.5,126.9 632.1,103.8 632.7,88.4 633.3,66.3 633.8,77.8 634.4,92.6 635.2,108.3 636.0,120.0 636.6,97.3 637.3,82.1 637.9,60.6 638.5,76.7 639.0,97.1 639.5,92.0 640.1,82.3 640.7,87.2 641.2,97.8 641.8,99.5 642.4,108.6 643.0,121.8 643.5,131.3 644.1,147.2 644.7,156.6 645.3,144.4 645.9,141.0 646.4,125.7 647.0,117.7 647.6,127.8 648.1,128.9 648.7,141.3 649.3,147.4 649.9,141.1 650.5,142.8 651.0,133.3 651.6,131.4 652.2,142.4 652.8,147.7 653.3,160.4 653.9,168.0 654.5,153.4 655.1,143.3 655.7,129.1 656.5,141.2 657.3,158.9 658.1,144.3 658.9,125.7 659.5,128.5 660.1,138.4 660.7,142.9 661.3,138.1 661.9,141.4 662.4,133.4 663.0,133.7 663.6,136.8 664.1,131.3 664.7,137.4 665.3,136.0 665.8,118.7 666.4,104.0 667.2,96.9 668.0,83.4 668.6,91.1 669.3,103.5 669.9,110.9 670.5,107.1 671.0,110.1 671.5,104.1 672.1,104.0 672.7,111.8 673.4,110.7 674.0,117.7 674.6,125.8 675.1,128.9 675.7,139.9 676.3,144.0 677.1,121.5 677.9,104.0 678.5,109.7 679.0,108.7 679.5,115.5 680.1,117.7 680.7,111.3 681.2,111.9 681.8,102.8 682.4,99.4 683.0,101.7 683.5,95.8 684.1,101.8 684.7,99.4 685.3,109.0 685.9,124.7 686.4,133.4 687.0,147.4 687.6,142.4 688.1,131.1 688.7,126.5 689.3,117.7 690.0,130.0 690.6,124.6 691.2,124.6 691.8,116.3 692.4,114.0 693.0,124.8 693.7,128.7 694.4,141.9 695.0,150.0 695.7,136.1 696.3,126.1 697.0,112.0 697.7,105.4 698.4,102.0 699.1,93.9 699.7,80.1 700.4,74.0 701.2,97.5 702.0,114.0 702.7,104.0 703.3,98.9 704.0,88.0 704.8,103.9 705.6,124.0 706.3,111.1 707.0,94.0 707.7,82.8 708.3,77.9 709.0,66.0 709.7,77.2 710.4,94.0 711.2,90.2 712.0,82.0 712.6,93.2 713.2,109.1 713.8,118.4 714.4,132.0 715.2,116.7 716.0,96.0 716.7,98.0 717.3,107.3 718.0,110.0 718.8,103.5 719.6,100.0 720.3,113.5 720.9,122.1 721.6,136.0 722.3,126.8 723.0,112.0 723.7,98.2 724.3,92.0 725.0,79.0 725.7,83.1 726.3,95.5 727.0,100.0 727.7,105.9 728.3,117.9 729.0,124.0 730.0,102.0 730.7,113.8 731.3,132.7 732.0,144.0 733.0,106.0 733.7,111.6 734.4,122.0 735.2,115.1 736.0,102.0 736.8,119.5 737.6,142.0 738.3,134.9 739.0,124.0 740.0,185.0 740.8,157.8 741.6,136.0 742.2,128.7 742.8,115.5 743.4,109.2 744.0,98.0 744.7,103.9 745.3,117.1 746.0,122.0 746.8,110.3 747.6,106.0 748.3,124.9 748.9,136.9 749.6,157.0 750.3,136.8 751.0,110.0 751.7,103.6 752.3,102.8 753.0,96.0 753.7,104.4 754.4,116.0 755.2,117.4 756.0,112.0 756.7,117.4 757.3,131.1 758.0,136.0 758.8,113.7 759.6,98.0 760.4,148.0 761.0,133.1 761.7,110.8 762.4,98.9 763.0,80.0 763.7,92.5 764.4,108.0 765.0,126.8 765.6,140.0 766.3,113.7 767.0,90.0 767.8,100.6 768.6,108.0 769.3,94.7 770.0,88.0 770.7,112.9 771.3,134.0 772.0,159.0 772.8,136.0 773.6,110.0 774.3,100.0 775.0,97.0 775.8,106.7 776.6,113.0 777.2,122.8 777.8,137.9 778.4,144.1 779.0,156.0 779.7,148.6 780.3,132.7 781.0,125.0 781.8,126.4 782.6,121.0 783.3,110.3 784.0,107.0 784.7,105.1 785.3,95.5 786.0,94.0 786.7,110.9 787.4,125.0 788.1,116.2 788.7,115.2 789.4,107.0 790.2,97.9 791.0,95.0 791.7,113.7 792.3,126.9 793.0,147.0 793.8,131.2 794.6,108.0 795.2,124.0 795.8,144.1 796.4,157.1 797.0,176.0 797.7,161.3 798.3,139.0 799.0,123.0 799.8,133.7 800.6,141.0 801.2,131.6 801.8,127.9 802.4,114.7 803.0,109.0 803.7,118.3 804.3,121.7 805.0,131.0 805.7,140.3 806.3,143.8 807.0,153.0 807.8,142.4 808.6,127.0 809.2,135.9 809.8,149.6 810.4,154.3 811.0,167.0 811.7,147.0 812.3,120.2 813.0,101.0 813.7,110.5 814.3,114.4 815.0,125.0 815.7,116.8 816.3,100.4 817.0,92.0 817.8,121.6 818.6,146.0 819.3,119.0 820.0,97.0 820.7,98.9 821.3,92.6 822.0,95.0 822.7,100.7 823.4,103.0 824.2,115.5 825.0,131.0 825.6,122.5 826.2,105.9 826.8,100.6 827.4,88.0 828.2,105.1 829.0,127.0 829.6,121.8 830.2,111.3 830.8,107.9 831.4,97.9 832.0,92.0 832.6,103.2 833.3,108.4 834.0,121.1 834.6,129.0 835.2,119.3 835.8,117.7 836.4,105.1 837.0,99.0 837.8,120.1 838.6,135.0 839.3,111.2 840.0,92.0 840.7,86.7 841.3,72.9 842.0,67.0 842.7,79.0 843.3,86.1 844.0,98.0 844.7,87.8 845.3,73.2 846.0,64.0 846.7,77.6 847.3,85.8 848.0,99.0 848.7,117.2 849.4,131.0 850.2,112.9 851.0,99.0 851.7,105.8 852.3,105.6 853.0,111.0 854.0,103.0 854.7,103.6 855.3,95.5 856.0,95.0 856.7,115.4 857.3,128.9 858.0,149.0 858.7,143.4 859.4,131.0 860.2,112.6 861.0,101.0 861.7,106.7 862.3,105.5 863.0,111.0 863.7,109.0 864.3,98.7 865.0,97.0 865.7,106.3 866.3,108.9 867.0,119.0 868.0,97.0 868.7,106.2 869.3,106.9 870.0,115.0 870.8,111.9 871.5,105.0" fill="none" stroke="#ff0000" stroke-width="1.0" stroke-linejoin="round"/>
<polyline points="444.4,478.5 446.0,473.4 448.4,471.8 450.8,473.1 453.5,474.2 453.5,409.1 454.8,415.0 456.0,418.5 457.0,419.8 458.0,422.2 458.8,423.4 459.7,424.7 460.5,425.3 461.5,425.9 462.6,426.4 463.6,427.8 464.5,428.4 465.4,429.2 466.2,430.1 467.1,429.7 468.0,430.8 468.9,430.7 469.7,432.0 470.6,432.3 471.5,433.2 472.3,433.4 473.2,433.4 474.0,433.6 474.9,433.7 475.7,435.2 476.5,434.2 477.3,434.2 478.2,434.3 479.0,435.0 479.9,435.2 480.8,435.4 481.6,435.3 482.5,435.6 483.4,435.9 484.2,436.3 485.1,436.6 486.0,436.3 486.8,436.5 487.6,435.8 488.4,437.0 489.2,436.2 490.0,436.9 490.8,436.4 491.6,437.2 492.4,437.0 493.2,437.6 494.0,437.6 494.8,439.2 495.6,437.8 496.4,438.2 497.2,437.4 498.0,437.9 498.8,438.4 499.6,438.2 500.4,438.5 501.2,438.5 502.0,438.5 502.8,438.1 503.6,438.9 504.4,438.3 505.2,439.6 506.0,438.6 506.8,439.2 507.6,438.9 508.4,439.4 509.2,438.8 510.0,439.1 510.8,439.6 511.6,439.1 512.4,439.8 513.2,439.5 514.0,439.4 514.8,439.0 515.6,439.7 516.4,439.6 517.2,440.2 518.0,439.5 518.8,439.4 519.6,439.8 520.4,439.8 521.2,439.8 522.0,439.8 522.8,439.8 523.6,439.5 524.4,439.4 525.2,439.7 526.0,440.2 526.8,440.6 527.6,440.4 528.4,440.5 529.2,440.4 530.0,440.1 530.8,440.4 531.6,440.2 532.4,440.5 533.2,441.0 534.0,440.1 534.8,440.0 535.6,441.2 536.4,440.5 537.2,440.8 538.0,440.8 538.8,440.0 539.6,441.6 540.4,441.3 541.2,440.6 542.0,440.6 542.8,441.0 543.6,440.7 544.4,440.3 545.2,440.7 546.0,441.0 546.8,441.3 547.6,441.2 548.4,440.9 549.2,441.6 550.0,440.7 550.8,441.4 551.6,441.6 552.4,441.0 553.2,440.4 554.0,441.2 554.9,440.8 555.7,441.4 556.6,441.5 557.4,442.0 558.3,440.9 559.1,441.4 560.0,441.7 560.8,441.4 561.7,440.4 562.5,441.9 563.4,442.6 564.2,442.1 565.1,441.2 565.9,441.5 566.8,441.7 568.4,520.0 569.0,624.0 570.4,633.4 573.8,635.9 580.0,637.0 592.5,639.3 612.0,641.6 631.6,643.9 636.0,644.4 641.8,645.8 660.0,647.5 686.0,649.5 710.0,650.3 744.0,651.3 800.0,651.9 871.5,652.5" fill="none" stroke="#00ff00" stroke-width="1.0" stroke-linejoin="round"/>
<polyline points="746.6,650.3 747.5,650.4 780.0,650.6 822.0,651.7 829.0,650.3 844.0,650.3 851.0,651.3 871.5,651.3" fill="none" stroke="#ff0000" stroke-width="1.0" stroke-linejoin="round"/>
<polyline points="117.6,657.5 117.9,659.5" fill="none" stroke="#ff0000" stroke-width="1.0" stroke-linejoin="round"/>
<polyline points="117.5,638.3 118.6,640.0 127.0,640.1 135.0,639.3 231.5,639.2 247.6,637.3 330.0,628.5 346.0,626.5 389.0,613.5 420.0,602.3 441.1,596.0 444.0,593.1 457.7,586.3 461.1,582.9 465.7,576.6 472.6,568.6 479.4,561.7 484.0,558.3 494.3,550.9 496.6,547.4 499.4,538.9 501.1,537.7 514.3,533.7 525.7,528.6 542.9,520.0 560.0,509.8 600.0,488.5 634.8,467.8 635.3,455.5 636.0,460.8 650.0,453.6 670.0,442.0 690.0,431.0 710.0,422.0 720.0,417.6 736.0,411.6 752.0,406.4 768.0,402.0 784.0,399.6 800.0,398.0 811.3,396.5 821.8,395.4 822.9,397.3 824.0,405.5 833.8,406.6 844.3,407.4 845.4,396.1 856.3,395.0 871.5,393.5" fill="none" stroke="#ff00ff" stroke-width="1.0" stroke-linejoin="round"/>
<polyline points="117.5,641.1 232.2,641.1 247.6,639.8 330.0,632.2 346.0,631.2 390.0,618.0 420.0,606.9 440.6,600.6 444.0,598.3 457.7,590.3 461.1,586.9 466.9,577.7 473.7,568.6 479.4,560.6 483.4,556.2 485.1,554.3 486.9,553.7 488.6,552.6 490.9,548.9 492.6,549.4 494.3,547.1 496.6,546.9 498.9,544.0 500.6,541.1 508.6,538.3 525.7,530.9 542.9,521.1 560.0,509.4 600.0,483.5 630.0,464.5 650.0,453.0 670.0,440.5 690.0,429.0 710.0,419.0 720.0,414.8 736.0,408.0 752.0,403.2 768.0,399.2 784.0,396.4 800.0,395.2 811.3,393.9 822.5,393.4 833.8,394.9 845.0,395.6 856.3,393.9 871.5,392.4" fill="none" stroke="#0000ff" stroke-width="1.0" stroke-linejoin="round"/>
<text x="786.00" y="47.60" text-anchor="end" textLength="97.71" lengthAdjust="spacingAndGlyphs">coil voltage</text>
<path d="M797.5 41.60H848.5" stroke="#00ff00" stroke-width="1.0"/>
<text x="786.00" y="67.20" text-anchor="end" textLength="95.51" lengthAdjust="spacingAndGlyphs">coil current</text>
<path d="M797.5 61.20H848.5" stroke="#ff0000" stroke-width="1.0"/>
<text x="786.00" y="397.90" text-anchor="end" textLength="129.20" lengthAdjust="spacingAndGlyphs">panel pressure</text>
<path d="M797.5 391.40H848.5" stroke="#00ff00" stroke-width="1.0"/>
<text x="786.00" y="417.50" text-anchor="end" textLength="154.15" lengthAdjust="spacingAndGlyphs">baratron pressure</text>
<path d="M797.5 411.00H848.5" stroke="#ff0000" stroke-width="1.0"/>
<text x="786.00" y="437.10" text-anchor="end" textLength="148.74" lengthAdjust="spacingAndGlyphs">bath temperature</text>
<path d="M797.5 430.60H848.5" stroke="#0000ff" stroke-width="1.0"/>
<text x="786.00" y="456.70" text-anchor="end" textLength="140.03" lengthAdjust="spacingAndGlyphs">cell temperature</text>
<path d="M797.5 450.20H848.5" stroke="#ff00ff" stroke-width="1.0"/>
</svg></body></html>
